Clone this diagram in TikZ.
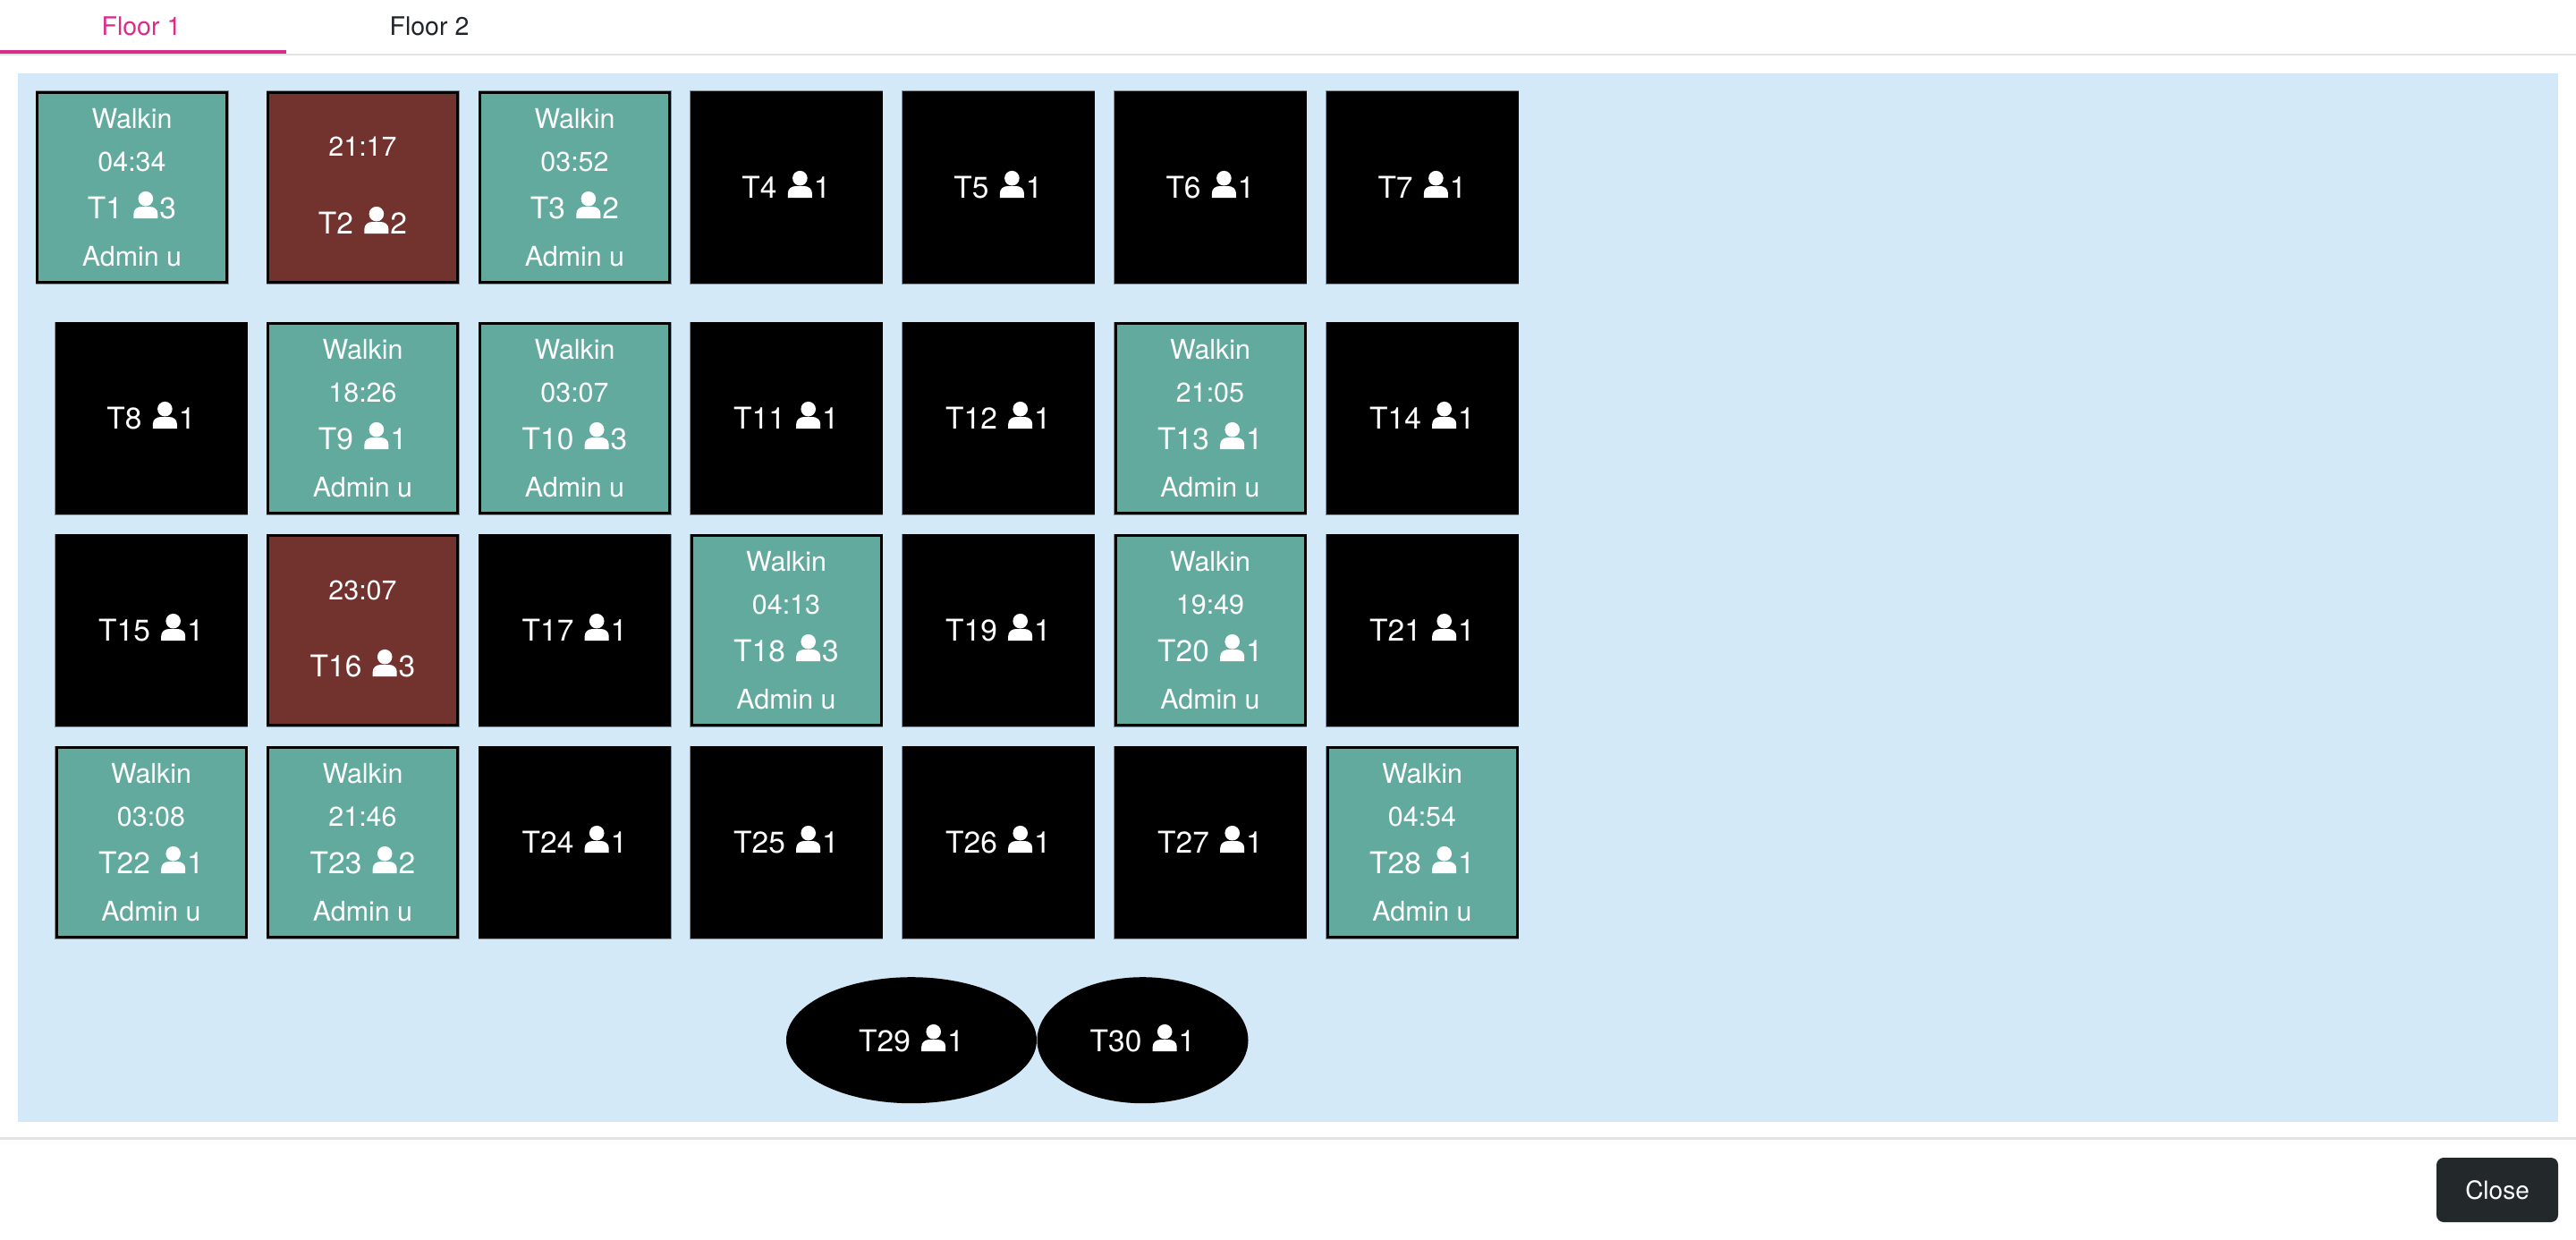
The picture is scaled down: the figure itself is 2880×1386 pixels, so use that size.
\documentclass[tikz,border=0pt]{standalone}
\usepackage{fontspec}
\setmainfont{TeX Gyre Heros}
\usetikzlibrary{shapes.geometric}
\definecolor{panelblue}{HTML}{D4E9F8}
\definecolor{walkteal}{HTML}{62A99E}
\definecolor{busybrown}{HTML}{72322D}
\definecolor{tabpink}{HTML}{DB2B8B}
\definecolor{tabink}{HTML}{212529}
\definecolor{rulegrey}{HTML}{E3E3E3}
\definecolor{btndark}{HTML}{23292B}
\definecolor{edgegrey}{HTML}{7F95A5}
\newsavebox{\personbox}
\sbox{\personbox}{\begin{tikzpicture}[x=1pt,y=1pt,baseline=(current bounding box.south)]
  \fill[white] (13.5,21.8) circle (8.3);
  \fill[white] (0,0) -- (0,5) .. controls (0,10) and (4,13) .. (9,13) -- (18,13) .. controls (23,13) and (27,10) .. (27,5) -- (27,0) -- cycle;
\end{tikzpicture}}
\newcommand{\person}{\hspace{3pt}\usebox{\personbox}\hspace{2pt}}
\tikzset{
  tablecard/.style={rectangle,draw=black,line width=3pt,minimum size=212pt,inner sep=0pt,outer sep=0pt,
    preaction={draw=edgegrey,line width=4pt}},
  walkcard/.style={tablecard,fill=walkteal},
  brownc/.style={tablecard,fill=busybrown},
  freecard/.style={tablecard,fill=black},
  roundtable/.style={ellipse,fill=black,inner sep=0pt,outer sep=0pt,minimum height=141pt},
  smalltxt/.style={anchor=base,inner sep=0pt,text=white,font=\fontsize{30.4}{36}\selectfont},
  bigtxt/.style={anchor=base,inner sep=0pt,text=white,font=\fontsize{33.5}{40}\selectfont},
  tabtxt/.style={anchor=base,inner sep=0pt,font=\fontsize{28.5}{34}\selectfont},
}
\newcommand{\walkin}[6]{% name cx top label guests time
  \node[walkcard] (#1) at (#2,#3+107.5) {};
  \node[smalltxt] (#1a) at (#2,#3+41) {Walkin};
  \node[smalltxt] (#1b) at (#2,#3+89) {#6};
  \node[bigtxt] (#1c) at (#2,#3+142) {#4 \person#5};
  \node[smalltxt] (#1d) at (#2,#3+195) {Admin u};
}
\newcommand{\busy}[6]{%
  \node[brownc] (#1) at (#2,#3+107.5) {};
  \node[smalltxt] (#1b) at (#2,#3+73) {#6};
  \node[bigtxt] (#1c) at (#2,#3+159) {#4 \person#5};
}
\newcommand{\free}[5]{%
  \node[freecard] (#1) at (#2,#3+107.5) {};
  \node[bigtxt] (#1c) at (#2,#3+119) {#4 \person#5};
}
\begin{document}
\begin{tikzpicture}[x=1pt,y=-1pt]
\useasboundingbox (0,0) rectangle (2880,1386);
\fill[white] (0,0) rectangle (2880,1386);
% window corners
\fill[gray!80] (0,0) -- (10,0) arc[start angle=90,end angle=180,radius=10] -- cycle;
\fill[gray!80] (2880,1386) -- (2870,1386) arc[start angle=-90,end angle=0,radius=10] -- cycle;
% tabs
\fill[rulegrey] (0,60) rectangle (2880,62.5);
\fill[tabpink] (0,56) rectangle (320,60);
\node[tabtxt,text=tabpink] (floorone) at (158,40) {Floor 1};
\node[tabtxt,text=tabink] (floortwo) at (480,40) {Floor 2};
% panel
\fill[panelblue] (20,82) rectangle (2860,1254);
% row 1
\walkin{t1}{147.5}{102}{T1}{3}{04:34}
\busy{t2}{405.5}{102}{T2}{2}{21:17}
\walkin{t3}{642.5}{102}{T3}{2}{03:52}
\free{t4}{879}{102}{T4}{1}
\free{t5}{1116}{102}{T5}{1}
\free{t6}{1353}{102}{T6}{1}
\free{t7}{1590}{102}{T7}{1}
% row 2
\free{t8}{169}{360}{T8}{1}
\walkin{t9}{405.5}{360}{T9}{1}{18:26}
\walkin{t10}{642.5}{360}{T10}{3}{03:07}
\free{t11}{879}{360}{T11}{1}
\free{t12}{1116}{360}{T12}{1}
\walkin{t13}{1353}{360}{T13}{1}{21:05}
\free{t14}{1590}{360}{T14}{1}
% row 3
\free{t15}{169}{597}{T15}{1}
\busy{t16}{405.5}{597}{T16}{3}{23:07}
\free{t17}{642.5}{597}{T17}{1}
\walkin{t18}{879}{597}{T18}{3}{04:13}
\free{t19}{1116}{597}{T19}{1}
\walkin{t20}{1353}{597}{T20}{1}{19:49}
\free{t21}{1590}{597}{T21}{1}
% row 4
\walkin{t22}{169}{834}{T22}{1}{03:08}
\walkin{t23}{405.5}{834}{T23}{2}{21:46}
\free{t24}{642.5}{834}{T24}{1}
\free{t25}{879}{834}{T25}{1}
\free{t26}{1116}{834}{T26}{1}
\free{t27}{1353}{834}{T27}{1}
\walkin{t28}{1590}{834}{T28}{1}{04:54}
% round tables
\node[roundtable,minimum width=280pt] (t29) at (1019,1162.7) {};
\node[bigtxt] (t29c) at (1019,1175) {T29 \person1};
\node[roundtable,minimum width=236pt] (t30) at (1277.5,1162.7) {};
\node[bigtxt] (t30c) at (1277.5,1175) {T30 \person1};
% footer
\fill[rulegrey] (0,1271) rectangle (2880,1273.5);
\node[rectangle,rounded corners=8pt,fill=btndark,minimum width=136pt,minimum height=72pt,inner sep=0pt,outer sep=0pt] (closebtn) at (2792,1330) {};
\node[anchor=base,inner sep=0pt,text=white,font=\fontsize{28}{34}\selectfont] (closetxt) at (2792,1340) {Close};
\end{tikzpicture}
\end{document}
